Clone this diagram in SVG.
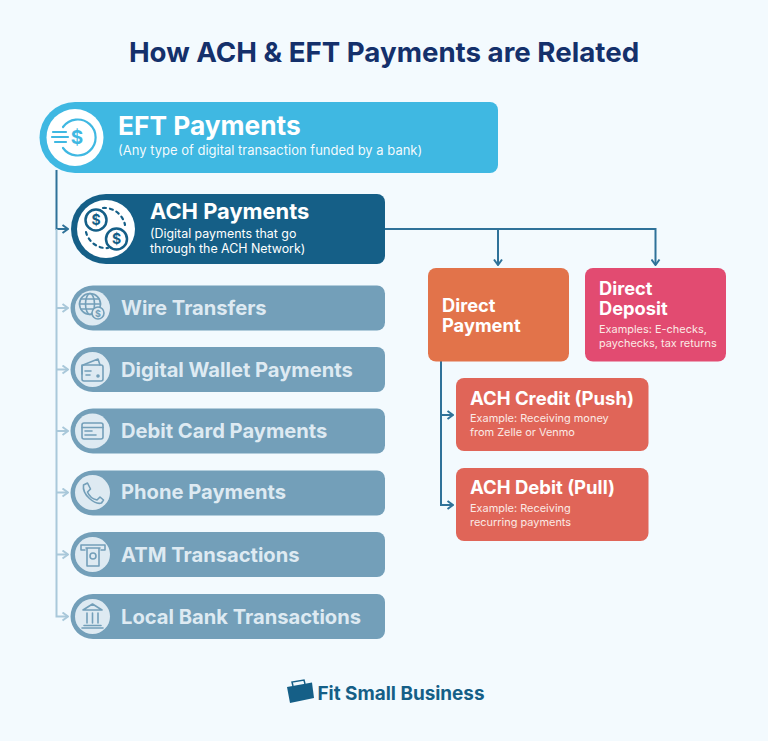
<svg xmlns="http://www.w3.org/2000/svg" width="768" height="741" viewBox="0 0 768 741">
<defs>
<style>
text{font-family:Inter,"Liberation Sans",sans-serif;fill:#fff}
.h{font-weight:700}
.row{fill:#739fb9}
.rt{font-size:20.15px;font-weight:700;fill:#deeaf2}
.rc{fill:#deeaf2}
.ic{fill:none;stroke:#739fb9;stroke-width:1.6;stroke-linecap:round;stroke-linejoin:round}
.sub{font-size:10.95px;fill:#fbe9e4}
.conn{fill:none;stroke:#2f7299;stroke-width:2}
.lite{fill:none;stroke:#a9c8da;stroke-width:2}
</style>
<marker id="a" viewBox="0 0 8 10" refX="7" refY="5" markerWidth="8" markerHeight="10" markerUnits="userSpaceOnUse" orient="auto"><path d="M1.5 1L7 5L1.5 9" fill="none" stroke="#2f7299" stroke-width="2"/></marker>
<marker id="b" viewBox="0 0 8 10" refX="7" refY="5" markerWidth="8" markerHeight="10" markerUnits="userSpaceOnUse" orient="auto"><path d="M1.5 1L7 5L1.5 9" fill="none" stroke="#a9c8da" stroke-width="2"/></marker>
</defs>
<rect width="768" height="741" fill="#f3fafe"/>
<text x="384" y="62" text-anchor="middle" class="h" font-size="27.7" style="fill:#14306b">How ACH &amp; EFT Payments are Related</text>
<g id="connectors">
<path class="conn" d="M56.5 170V229H68" marker-end="url(#a)"/>
<path class="lite" d="M56.5 229V616.5H68" marker-end="url(#b)"/>
<path class="lite" d="M56.5 308H68" marker-end="url(#b)"/>
<path class="lite" d="M56.5 369.5H68" marker-end="url(#b)"/>
<path class="lite" d="M56.5 431H68" marker-end="url(#b)"/>
<path class="lite" d="M56.5 492.5H68" marker-end="url(#b)"/>
<path class="lite" d="M56.5 554.5H68" marker-end="url(#b)"/>
<path class="conn" d="M385 229H655.5V265" marker-end="url(#a)"/>
<path class="conn" d="M498 229V265" marker-end="url(#a)"/>
<path class="conn" d="M441 361V505H453" marker-end="url(#a)"/>
<path class="conn" d="M441 415H453" marker-end="url(#a)"/>
</g>
<g id="eft">
<path d="M75 102H490a8 8 0 0 1 8 8V165a8 8 0 0 1-8 8H75a35.5 35.5 0 0 1 0-71z" fill="#3fb8e2"/>
<circle cx="75" cy="137.5" r="28.5" fill="#fff"/>
<g fill="none" stroke="#3fb8e2" stroke-width="2.2" stroke-linecap="round"><path d="M63 127a18 18 0 1 1 0 21"/><path d="M53 132H66M52 137H68M55 142H66"/></g>
<text x="76" y="144" font-size="19" text-anchor="middle" class="h" dx="1" style="fill:#3fb8e2">$</text>
<text x="118" y="134.5" font-size="26.3" class="h">EFT Payments</text>
<text x="118" y="155" font-size="13" fill-opacity=".95">(Any type of digital transaction funded by a bank)</text>
</g>
<g id="ach">
<path d="M106 194H377a8 8 0 0 1 8 8V256a8 8 0 0 1-8 8H106a35 35 0 0 1 0-70z" fill="#155f87"/>
<circle cx="106" cy="229" r="29" fill="#fff"/>
<path d="M103 208a21 21 0 0 1 22 17M86 232a21 21 0 0 0 22 16" fill="none" stroke="#155f87" stroke-width="2.2" stroke-dasharray="3 4" stroke-linecap="round"/>
<circle cx="96" cy="220" r="10.5" fill="#fff" stroke="#155f87" stroke-width="2.5"/>
<circle cx="116.5" cy="239" r="10.5" fill="#fff" stroke="#155f87" stroke-width="2.5"/>
<text x="96" y="225" font-size="14" text-anchor="middle" class="h" style="fill:#155f87">$</text>
<text x="116.5" y="244" font-size="14" text-anchor="middle" class="h" style="fill:#155f87">$</text>
<text x="150" y="219" font-size="21.9" class="h">ACH Payments</text>
<text x="150" y="238" font-size="12.4">(Digital payments that go</text>
<text x="150" y="253" font-size="12.4">through the ACH Network)</text>
</g>
<g id="wire">
<path class="row" d="M93 285.5H377a8 8 0 0 1 8 8V322.5a8 8 0 0 1-8 8H93a22.5 22.5 0 0 1 0-45z"/>
<circle class="rc" cx="92.5" cy="308" r="17.5"/>
<g class="ic"><circle cx="90" cy="304" r="10.5"/><ellipse cx="90" cy="304" rx="4.5" ry="10.5"/><path d="M79.5 304H100.500M81 299H99M81 309H93"/></g>
<circle cx="98" cy="313" r="6" fill="#deeaf2" stroke="#739fb9" stroke-width="1.6"/>
<text x="98" y="316.5" font-size="9" text-anchor="middle" class="h" style="fill:#739fb9">$</text>
<text x="121" y="315" class="rt">Wire Transfers</text>
</g>
<g id="wallet">
<path class="row" d="M93 347H377a8 8 0 0 1 8 8V384a8 8 0 0 1-8 8H93a22.5 22.5 0 0 1 0-45z"/>
<circle class="rc" cx="92.5" cy="369.5" r="17.5"/>
<g class="ic"><rect x="82" y="365" width="21" height="16" rx="2"/><path d="M83 365L98 359L100 365M82 365V374M85 371H91M86 375H90"/><circle cx="98" cy="376" r="1" fill="#739fb9"/></g>
<text x="121" y="376.5" class="rt">Digital Wallet Payments</text>
</g>
<g id="debit">
<path class="row" d="M93 408.5H377a8 8 0 0 1 8 8V445.5a8 8 0 0 1-8 8H93a22.5 22.5 0 0 1 0-45z"/>
<circle class="rc" cx="92.5" cy="431" r="17.5"/>
<g class="ic"><rect x="82" y="423" width="21" height="16" rx="2"/><path d="M82 427.5H103M85 431H92M85 435H96"/></g>
<text x="121" y="438" class="rt">Debit Card Payments</text>
</g>
<g id="phone">
<path class="row" d="M93 470.5H377a8 8 0 0 1 8 8V507.5a8 8 0 0 1-8 8H93a22.5 22.5 0 0 1 0-45z"/>
<circle class="rc" cx="92.5" cy="492.5" r="17.5"/>
<path class="ic" d="M83.5 485L87.5 483L90.5 489L87.5 492C89 496 93 499 97 500L100 497L103.5 500L101.5 503C95 505 82 495 83.5 485Z"/>
<text x="121" y="499" class="rt">Phone Payments</text>
</g>
<g id="atm">
<path class="row" d="M93 532H377a8 8 0 0 1 8 8V569a8 8 0 0 1-8 8H93a22.5 22.5 0 0 1 0-45z"/>
<circle class="rc" cx="92.5" cy="554.5" r="17.5"/>
<g class="ic"><path d="M85 550H81V545H105V550H101M86 548H100M87 548V566H99V548"/><circle cx="93" cy="556" r="3"/></g>
<text x="121" y="561.5" class="rt">ATM Transactions</text>
</g>
<g id="local">
<path class="row" d="M93 594H377a8 8 0 0 1 8 8V631a8 8 0 0 1-8 8H93a22.5 22.5 0 0 1 0-45z"/>
<circle class="rc" cx="92.5" cy="616.5" r="17.5"/>
<g class="ic"><path d="M83 610L92.5 604L102 610ZM87 613V623M92.5 613V623M98 613V623M84 625.5H101M82 628H103"/></g>
<text x="121" y="624" class="rt">Local Bank Transactions</text>
</g>
<g id="direct-payment">
<rect x="428" y="268" width="141" height="93.5" rx="8" fill="#e2734a"/>
<text x="442" y="311.5" font-size="18.3" class="h">Direct</text>
<text x="442" y="331.5" font-size="18.3" class="h">Payment</text>
</g>
<g id="direct-deposit">
<rect x="585" y="268" width="141" height="93.5" rx="8" fill="#e24b71"/>
<text x="599" y="295" font-size="18.3" class="h">Direct</text>
<text x="599" y="315" font-size="18.3" class="h">Deposit</text>
<text x="599" y="333" class="sub">Examples: E-checks,</text>
<text x="599" y="347" class="sub">paychecks, tax returns</text>
</g>
<g id="ach-credit">
<rect x="456" y="378" width="192.5" height="73" rx="8" fill="#e06558"/>
<text x="470" y="404.5" font-size="18.5" class="h">ACH Credit (Push)</text>
<text x="470" y="422" class="sub">Example: Receiving money</text>
<text x="470" y="436" class="sub">from Zelle or Venmo</text>
</g>
<g id="ach-debit">
<rect x="456" y="468" width="192.5" height="73" rx="8" fill="#e06558"/>
<text x="470" y="493.5" font-size="18.5" class="h">ACH Debit (Pull)</text>
<text x="470" y="512" class="sub">Example: Receiving</text>
<text x="470" y="526" class="sub">recurring payments</text>
</g>
<g id="logo">
<path d="M287 687L312 682.5L314 698L290 703Z" fill="#155f87"/>
<path d="M293 686L292 682L304 680L305 684" fill="none" stroke="#155f87" stroke-width="1.5"/>
<text x="317.5" y="700" font-size="18.9" class="h" style="fill:#155f87">Fit Small Business</text>
</g>
</svg>
